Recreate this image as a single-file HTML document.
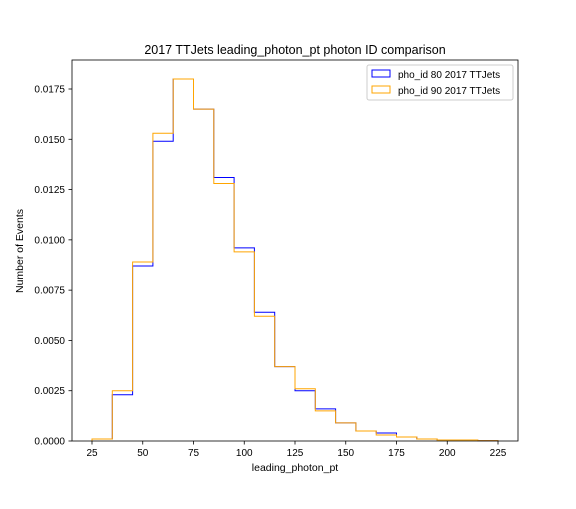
<!DOCTYPE html>
<html><head><meta charset="utf-8"><style>
body{margin:0;background:#fff;}
svg text{font-family:"Liberation Sans",sans-serif;fill:#000;}
</style></head><body>
<svg id="c" width="576" height="504" xmlns="http://www.w3.org/2000/svg">
<rect width="576" height="504" fill="#fff"/>
<text x="295" y="54" font-size="12.5" text-anchor="middle">2017 TTJets leading_photon_pt photon ID comparison</text>
<text x="295" y="471" font-size="10.5" text-anchor="middle">leading_photon_pt</text>
<text transform="translate(23,251) rotate(-90)" font-size="10.5" text-anchor="middle">Number of Events</text>
<g id="ticks"></g>
<g id="series"></g>
<rect x="72" y="60" width="446" height="381" fill="none" stroke="#000" stroke-width="0.8"/>
<g>
<rect x="367" y="65" width="146" height="35" fill="#fff" stroke="#ccc" rx="2"/>
<g>
<rect x="372" y="70" width="18" height="7" fill="none" stroke="blue"/>
<text x="398" y="78" font-size="10">pho_id 80 2017 TTJets</text></g>
<g>
<rect x="372" y="86" width="18" height="7" fill="none" stroke="orange"/>
<text x="398" y="94" font-size="10">pho_id 90 2017 TTJets</text></g>
</g>
</svg>
<script>
const binEdges=[25,35,45,55,65,75,85,95,105,115,125,135,145,155,165,175,185,195,205,215,225];
const pho80=[0.0001,0.0023,0.0087,0.0149,0.0180,0.0165,0.0131,0.0096,0.0064,0.0037,0.0025,0.0016,0.0009,0.0005,0.0004,0.0002,0.0001,0.00005,0.00005,0.00002];
const pho90=[0.0001,0.0025,0.0089,0.0153,0.0180,0.0165,0.0128,0.0094,0.0062,0.0037,0.0026,0.0015,0.0009,0.0005,0.0003,0.0002,0.0001,0.00005,0.00005,0.00002];
const xTicks=[25,50,75,100,125,150,175,200,225];
const yTicks=[0,0.0025,0.005,0.0075,0.01,0.0125,0.015,0.0175];
const NS="http://www.w3.org/2000/svg";
const xs=v=>92+(v-25)*(406/200);
const ys=v=>441-v*(352/0.0175);
const tg=document.getElementById('ticks');
function el(t,a){const e=document.createElementNS(NS,t);for(const k in a)e.setAttribute(k,a[k]);return e;}
xTicks.forEach(v=>{
 const l=el('line',{x1:xs(v),x2:xs(v),y1:441,y2:444.5,stroke:'#000','stroke-width':0.8});
 
 
 tg.appendChild(l);
 const t=el('text',{x:xs(v),y:456,'font-size':10,'text-anchor':'middle'});t.textContent=v;
 
 
 tg.appendChild(t);
});
yTicks.forEach(v=>{
 const l=el('line',{x1:68.5,x2:72,y1:ys(v),y2:ys(v),stroke:'#000','stroke-width':0.8});
 
 
 tg.appendChild(l);
 const t=el('text',{x:65,y:ys(v)+3.5,'font-size':10,'text-anchor':'end'});t.textContent=v.toFixed(4);
 
 
 tg.appendChild(t);
});
const sg=document.getElementById('series');
function step(vals,color,name){
 let d='M'+xs(binEdges[0])+','+ys(0);
 vals.forEach((v,i)=>{d+=' L'+xs(binEdges[i])+','+ys(v)+' L'+xs(binEdges[i+1])+','+ys(v);});
 d+=' L'+xs(binEdges[binEdges.length-1])+','+ys(0);
 const p=el('path',{d:d,fill:'none',stroke:color,'stroke-width':1});
 
 
 sg.appendChild(p);
}
step(pho80,'blue','series-pho-id-80');
step(pho90,'orange','series-pho-id-90');
</script>
</body></html>
